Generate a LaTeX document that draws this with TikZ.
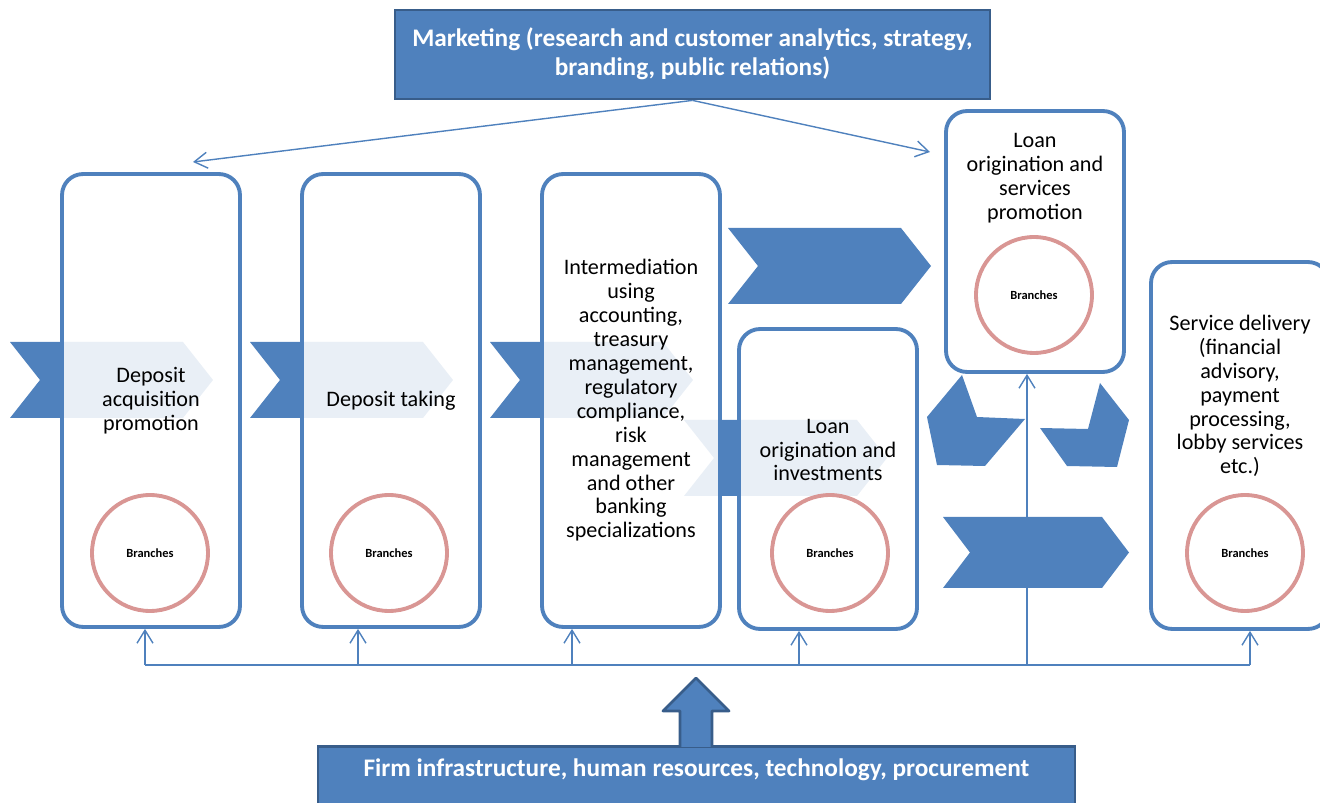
\documentclass[tikz,border=0pt]{standalone}
\usepackage{fontspec}
\setmainfont{Carlito}
\usepackage{tikz}
\usetikzlibrary{arrows.meta,positioning,backgrounds}
\definecolor{mainblue}{HTML}{4F81BD}
\definecolor{darkblue}{HTML}{385D8A}
\definecolor{branchpink}{HTML}{D99694}

\begin{document}
\begin{tikzpicture}[x=0.02cm, y=-0.02cm,
  stage/.style={rectangle, draw=mainblue, line width=2.2pt, rounded corners=0.42cm, fill=white, fill opacity=0.88, text opacity=1, minimum width=3.56cm, align=center, font=\fontsize{12.6}{13.6}\selectfont},
  caption/.style={align=center, inner sep=0pt, font=\fontsize{12.6}{13.6}\selectfont},
  branch/.style={circle, draw=branchpink, line width=2.2pt, minimum size=2.32cm, inner sep=0pt, font=\fontsize{7.1}{8}\selectfont\bfseries},
  banner/.style={rectangle, draw=darkblue, line width=1.6pt, fill=mainblue, text=white, align=center, font=\fontsize{14.4}{16.6}\selectfont\bfseries},
  wire/.style={draw=mainblue, line width=0.8pt},
  link/.style={wire, -{Straight Barb[length=2.6mm, width=3.2mm]}},
  chev/.style={fill=mainblue},
]

\useasboundingbox (0,0) rectangle (1320,803);

% value chain boxes
\node[stage, minimum height=9.06cm] (box1) at (151,400.5) {Deposit\\acquisition\\promotion};
\node[stage, minimum height=9.06cm] (box2) at (391,400.5) {Deposit taking};
\node[stage, minimum height=9.06cm] (box3) at (631,400.5) {Intermediation\\using\\accounting,\\treasury\\management,\\regulatory\\compliance,\\risk\\management\\and other\\banking\\specializations};
\node[stage, minimum height=6cm] (box4) at (828,479) {};
\node[stage, minimum height=5.22cm] (box5) at (1035,241.5) {};
\node[stage, minimum height=7.34cm] (box6) at (1240,445.5) {};

\node[caption] (txt4) at (828,450) {Loan\\origination and\\investments};
\node[caption] (txt5) at (1035,178) {Loan\\origination and\\services\\promotion};
\node[caption] (txt6) at (1240,396) {Service delivery\\(financial\\advisory,\\payment\\processing,\\lobby services\\etc.)};

% branches
\node[branch] (br1) at (150,553) {Branches};
\node[branch] (br2) at (389,553) {Branches};
\node[branch] (br3) at (830,553) {Branches};
\node[branch] (br4) at (1034,295) {Branches};
\node[branch] (br5) at (1245,553) {Branches};

% support activities
\node[banner, minimum width=11.9cm, minimum height=1.78cm, text depth=0.12cm] (mkt) at (692.5,54.5) {Marketing (research and customer analytics, strategy,\\branding, public relations)};
\node[banner, minimum width=15.14cm, minimum height=1.6cm, anchor=north] (infra) at (696.5,745) {};
\node[text=white, font=\fontsize{14.4}{16.6}\selectfont\bfseries] (infratxt) at (696.5,770) {Firm infrastructure, human resources, technology, procurement};
\filldraw[fill=mainblue, draw=darkblue, line width=1.6pt, line join=round] (680,747) -- (680,711) -- (663,711) -- (696,678) -- (729,711) -- (712,711) -- (712,747);

\begin{scope}[on background layer]
  \coordinate (mktL) at (193,162);
  \coordinate (mktR) at (930,152);
  \draw[link] (mkt.south) -- (mktL);
  \draw[link] (mkt.south) -- (mktR);
  \foreach \b/\x [count=\i] in {box1/145, box2/358, box3/572, box4/799, box5/1027, box6/1250} {
    \coordinate (bus\i) at (\x,665);
    \draw[link] (bus\i) -- (bus\i |- \b.south);
  }
  \draw[wire] (bus1) -- (bus6);
  % chevrons
  \foreach \x/\y in {10/342, 250/342, 490/342, 684/420, 728/228}
    \fill[chev] (\x,\y) -- ++(173,0) -- ++(30,38) -- ++(-30,38) -- ++(-173,0) -- ++(30,-38) -- cycle;
  \fill[chev] (943,517) -- (1102,517) -- (1129,552.5) -- (1102,588) -- (943,588) -- (970,552.5) -- cycle;
  % loop shapes under box5
  \fill[chev] (962,375) -- (977,417) -- (1025,419) -- (985,466) -- (937,465) -- (927,417) -- cycle;
  \fill[chev] (1100,383) -- (1129,420) -- (1117,467) -- (1067,466) -- (1040,428) -- (1088,429) -- cycle;
\end{scope}

\end{tikzpicture}
\end{document}
